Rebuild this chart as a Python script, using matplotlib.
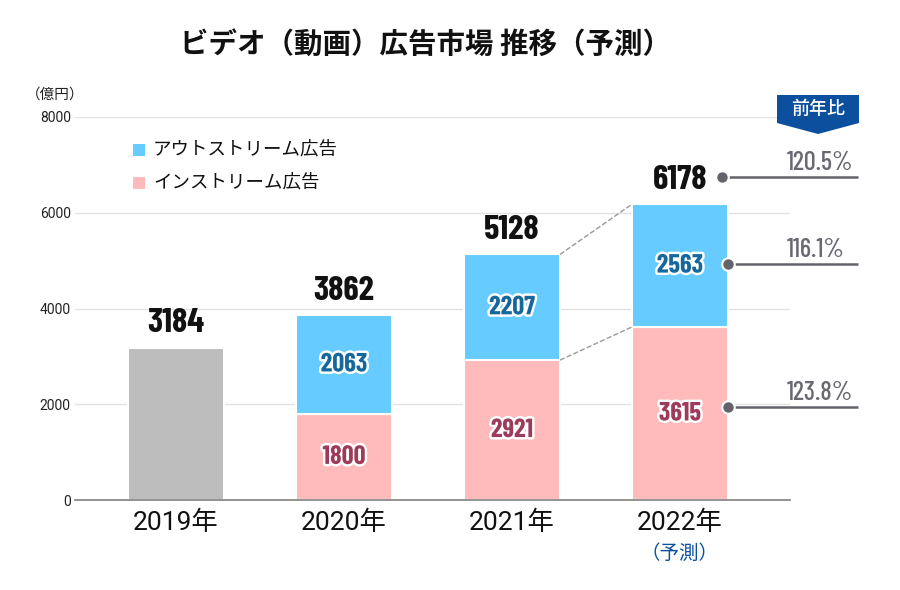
import matplotlib
matplotlib.use("Agg")
import numpy as np
import matplotlib.pyplot as plt
import matplotlib.patheffects as pe
from matplotlib.patches import Polygon, Rectangle
from matplotlib.transforms import ScaledTranslation

# data (億円)
years = ["2019年", "2020年", "2021年", "2022年"]
totals = [3184, 3862, 5128, 6178]
instream = [1800, 2921, 3615]      # 2020-2022
outstream = [2063, 2207, 2563]     # 2020-2022
series_names = ["アウトストリーム広告", "インストリーム広告"]
yoy = ["120.5%", "116.1%", "123.8%"]   # total, outstream, instream (2022)

GRAY = "#bdbdbd"
BLUE = "#66ccff"
PINK = "#ffbbbb"
BLUE_TXT = "#16679c"
PINK_TXT = "#9c3c5a"
LINE = "#64636b"
NAVY = "#0b4f9e"
JP = ["Noto Sans CJK JP", "DejaVu Sans"]
NUM = "Barlow Condensed"

fig = plt.figure(figsize=(9, 5.9), dpi=100)


def fx(px):
    return px / 900


def fy(py):
    return 1 - py / 590


ax = fig.add_axes([fx(75), fy(500), fx(715), 383 / 590])

x = np.arange(len(years))
w = 0.571
ax.bar(x[0], totals[0], w, color=GRAY, edgecolor="white", linewidth=1.5)
ax.bar(x[1:], instream, w, color=PINK, edgecolor="white", linewidth=1.5)
ax.bar(x[1:], outstream, w, bottom=instream, color=BLUE, edgecolor="white", linewidth=1.5)

ax.set_xlim(-0.601, 3.655)
ax.set_ylim(0, 8000)
yt = np.arange(0, 8001, 2000)
ax.set_yticks(yt, labels=[str(v) for v in yt], fontsize=10, family="Roboto", color="#222222")
ax.set_xticks(x, labels=years, fontsize=19, family=["Roboto", "Noto Sans CJK JP"], color="#111111")
ax.tick_params(axis="y", length=0, pad=3)
ax.tick_params(axis="x", length=0, pad=8)
ax.grid(axis="y", color="#e2e2e2", linewidth=1)
ax.set_axisbelow(True)
for s in ("left", "right", "top"):
    ax.spines[s].set_visible(False)
ax.spines["bottom"].set_color("#808080")
ax.spines["bottom"].set_linewidth(1.2)

# dashed connectors between 2021 and 2022
ax.plot([2 + w / 2, 3 - w / 2], [totals[2], totals[3]], ls="--", color="#9a9a9a", lw=1)
ax.plot([2 + w / 2, 3 - w / 2], [instream[1], instream[2]], ls="--", color="#9a9a9a", lw=1)

# totals above bars
for xi, t in zip(x, totals):
    ax.annotate(str(t), (xi, t), xytext=(0, 11), textcoords="offset points",
                ha="center", va="baseline", fontsize=25, family=NUM, weight="bold",
                color="#111111")

# segment labels
stroke = [pe.withStroke(linewidth=3.5, foreground="white")]
for xi, a, b in zip(x[1:], instream, outstream):
    ax.text(xi, a / 2, str(a), ha="center", va="center", fontsize=19, family=NUM,
            weight="bold", color=PINK_TXT, path_effects=stroke)
    ax.text(xi, a + b / 2, str(b), ha="center", va="center", fontsize=19, family=NUM,
            weight="bold", color=BLUE_TXT, path_effects=stroke)


def shifted(dy_px):
    return ax.transData + ScaledTranslation(0, dy_px / 100, fig.dpi_scale_trans)


# year-on-year callouts
rows = [(3.25, totals[3], 27.5),
        (3 + w / 2, instream[2] + outstream[2] / 2, 2),
        (3 + w / 2, instream[2] / 2, 6)]
for (xs, yv, off), lab in zip(rows, yoy):
    tr = shifted(off)
    ax.plot([xs, 4.06], [yv, yv], transform=tr, color=LINE, lw=1.8,
            solid_capstyle="butt", clip_on=False, zorder=4)
    ax.plot([xs], [yv], transform=tr, marker="o", ms=9, mfc=LINE, mec="white",
            mew=1.5, clip_on=False, zorder=5)
    ax.text(3.637, yv, lab, transform=shifted(off + 7), ha="left", va="baseline",
            fontsize=19, family=NUM, weight=500, color="#6a6972")

# forecast note under 2022
ax.text(3, -53 / 383, "（予測）", transform=ax.get_xaxis_transform(), ha="center",
        va="center", fontsize=14, family=JP, color=NAVY)

# badge
badge = Polygon([(fx(777), fy(95)), (fx(859), fy(95)), (fx(859), fy(123)),
                 (fx(818), fy(134)), (fx(777), fy(123))],
                closed=True, transform=fig.transFigure, facecolor=NAVY, edgecolor="none")
fig.add_artist(badge)
fig.text(fx(818), fy(109), "前年比", ha="center", va="center", fontsize=13,
         family=JP, color="white", weight="medium")

# legend
for (name, col), cy in zip(zip(series_names, [BLUE, PINK]), [149.5, 183]):
    fig.add_artist(Rectangle((fx(132.5), fy(cy + 6)), fx(12), 12 / 590,
                             transform=fig.transFigure, facecolor=col, edgecolor="none"))
    fig.text(fx(153), fy(cy), name, ha="left", va="center", fontsize=13.3,
             family=JP, color="#111111")

fig.text(fx(26), fy(95), "（億円）", ha="left", va="center", fontsize=10.5,
         family=JP, color="#222222")
fig.text(fx(425), fy(45), "ビデオ（動画）広告市場 推移（予測）", ha="center", va="center",
         fontsize=20.5, family=JP, weight="bold", color="#111111")

fig.savefig("out.png", dpi=100)
